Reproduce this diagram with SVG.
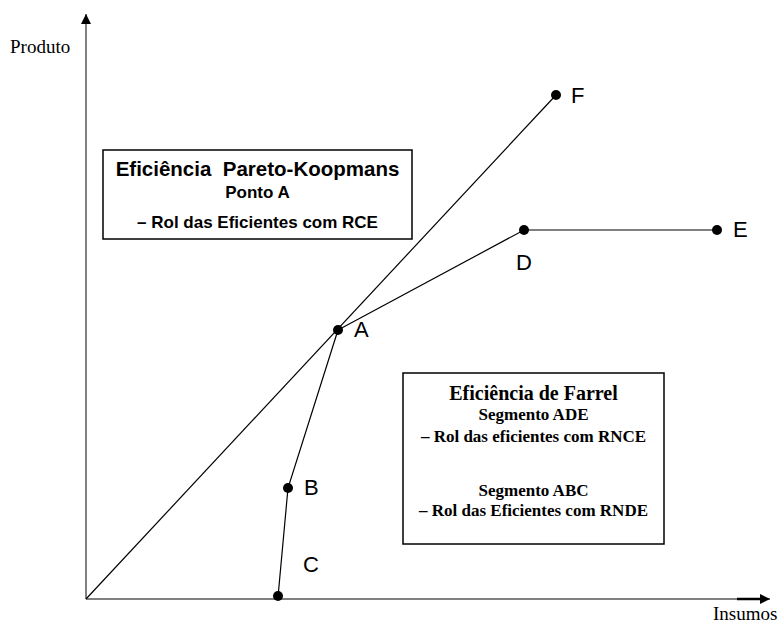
<svg xmlns="http://www.w3.org/2000/svg" width="784" height="623" viewBox="0 0 784 623">
<defs>
<style>
.axis{stroke:#808080;stroke-width:2;fill:none}
.ln{stroke:#000;stroke-width:1.2;fill:none}
.dot{fill:#000}
.pl{font-family:"Liberation Sans",Arial,sans-serif;font-size:22px;fill:#000}
.ax{font-family:"Liberation Serif","Times New Roman",serif;font-size:19px;fill:#000}
.box{fill:#fff;stroke:#000;stroke-width:1.5}
.b1{font-family:"Liberation Sans",Arial,sans-serif;font-weight:bold;fill:#000;text-anchor:middle}
.b2{font-family:"Liberation Serif","Times New Roman",serif;font-weight:bold;fill:#000;text-anchor:middle}
</style>
<marker id="arr" markerWidth="10" markerHeight="10" refX="10" refY="5" orient="auto" markerUnits="userSpaceOnUse">
<path d="M0,0 L10,5 L0,10 Z" fill="#000"/>
</marker>
</defs>
<rect width="784" height="623" fill="#fff"/>
<g id="axes">
<line class="axis" x1="86" y1="599" x2="86" y2="14" marker-end="url(#arr)"/>
<line class="axis" x1="86" y1="599" x2="770" y2="599" marker-end="url(#arr)"/>
<line x1="737" y1="599" x2="762" y2="599" stroke="#000" stroke-width="2.5"/>
<text class="ax" x="10" y="53">Produto</text>
<text class="ax" x="713" y="620">Insumos</text>
</g>
<g id="connectors">
<line class="ln" x1="86" y1="599" x2="556" y2="95"/>
<polyline class="ln" points="338,330 524,230 717,230"/>
<polyline class="ln" points="338,330 288,488 278,597"/>
</g>
<g id="point-A"><circle class="dot" cx="338" cy="330" r="5"/><text class="pl" x="354" y="337">A</text></g>
<g id="point-B"><circle class="dot" cx="288" cy="488" r="5"/><text class="pl" x="304" y="495">B</text></g>
<g id="point-C"><circle class="dot" cx="278" cy="596" r="5"/><text class="pl" x="303" y="572">C</text></g>
<g id="point-D"><circle class="dot" cx="524" cy="230" r="5"/><text class="pl" x="516" y="270">D</text></g>
<g id="point-E"><circle class="dot" cx="717" cy="230" r="5"/><text class="pl" x="733" y="237">E</text></g>
<g id="point-F"><circle class="dot" cx="556" cy="95" r="5"/><text class="pl" x="571" y="103">F</text></g>
<g id="box-pareto">
<rect class="box" x="103" y="150" width="309" height="89"/>
<text class="b1" x="257.5" y="176" font-size="20.5" xml:space="preserve">Eficiência  Pareto-Koopmans</text>
<text class="b1" x="257.5" y="198" font-size="17">Ponto A</text>
<text class="b1" x="257.5" y="228" font-size="17">– Rol das Eficientes com RCE</text>
</g>
<g id="box-farrel">
<rect class="box" x="403" y="373" width="261" height="171"/>
<text class="b2" x="533.5" y="400" font-size="20">Eficiência de Farrel</text>
<text class="b2" x="533.5" y="420" font-size="17">Segmento ADE</text>
<text class="b2" x="533.5" y="442" font-size="17">– Rol das eficientes com RNCE</text>
<text class="b2" x="533.5" y="496" font-size="17">Segmento ABC</text>
<text class="b2" x="533.5" y="516" font-size="17">– Rol das Eficientes com RNDE</text>
</g>
</svg>
